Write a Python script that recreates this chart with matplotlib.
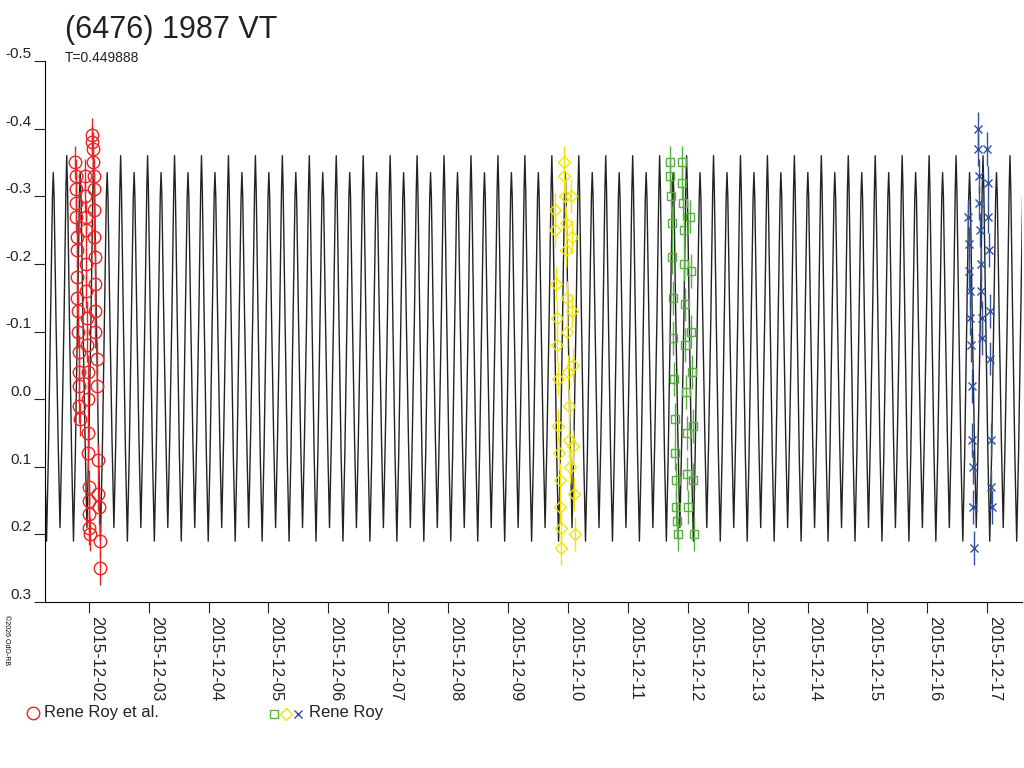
import matplotlib
matplotlib.use("Agg")
import matplotlib.pyplot as plt
import matplotlib.dates as mdates
import numpy as np
from datetime import datetime, timedelta

plt.rcParams['font.family'] = ['Liberation Sans', 'DejaVu Sans']

title = "(6476) 1987 VT"
period_label = "T=0.449888"
period = 0.449888
epoch = 1.633  # day of December 2015 (fractional) of main maximum

# one period of model lightcurve (phase, relative mag)
model_phase = [0.0, 0.03, 0.10, 0.18, 0.25, 0.32, 0.40, 0.47, 0.5, 0.53, 0.60, 0.68, 0.75, 0.82, 0.90, 0.97, 1.0]
model_mag = [-0.36, -0.31, -0.12, 0.08, 0.21, 0.08, -0.12, -0.30, -0.335, -0.30, -0.12, 0.06, 0.19, 0.06, -0.12, -0.31, -0.36]

# Rene Roy et al. (red)
red_t = [1.77, 1.78, 1.78, 1.79, 1.79, 1.80, 1.80, 1.81, 1.81, 1.82, 1.82, 1.83, 1.83, 1.84, 1.84, 1.85,
         1.94, 1.94, 1.95, 1.95, 1.96, 1.96, 1.97, 1.97, 1.98, 1.98, 1.99, 1.99, 2.00, 2.00, 2.01, 2.01, 2.02,
         2.06, 2.06, 2.07, 2.07, 2.08, 2.08, 2.09, 2.09, 2.10, 2.10, 2.11, 2.11, 2.13, 2.14, 2.15, 2.16, 2.17, 2.18, 2.19]
red_m = [-0.35, -0.33, -0.31, -0.29, -0.27, -0.24, -0.22, -0.18, -0.15, -0.13, -0.10, -0.07, -0.04, -0.02, 0.01, 0.03,
         -0.33, -0.30, -0.27, -0.25, -0.20, -0.16, -0.12, -0.08, -0.04, 0.00, 0.05, 0.08, 0.13, 0.15, 0.17, 0.19, 0.20,
         -0.39, -0.38, -0.37, -0.35, -0.33, -0.31, -0.28, -0.24, -0.21, -0.17, -0.13, -0.10, -0.06, -0.02, 0.09, 0.14, 0.16, 0.21, 0.25]

# Rene Roy (yellow diamonds)
yel_t = [9.78, 9.79, 9.80, 9.81, 9.82, 9.83, 9.84, 9.85, 9.86, 9.87, 9.88, 9.89,
         9.93, 9.94, 9.95, 9.96, 9.97, 9.98, 9.99, 10.00, 10.01, 10.02, 10.03,
         10.05, 10.06, 10.07, 10.08, 10.09, 10.10, 10.11]
yel_m = [-0.28, -0.25, -0.17, -0.12, -0.08, -0.03, 0.04, 0.08, 0.12, 0.16, 0.19, 0.22,
         -0.35, -0.33, -0.30, -0.26, -0.22, -0.15, -0.10, -0.04, 0.01, 0.06, 0.10,
         -0.30, -0.24, -0.13, -0.05, 0.07, 0.14, 0.20]

# Rene Roy (green squares)
grn_t = [11.70, 11.71, 11.72, 11.73, 11.74, 11.75, 11.76, 11.77, 11.78, 11.79, 11.80, 11.81, 11.82, 11.83,
         11.90, 11.91, 11.92, 11.93, 11.94, 11.95, 11.96, 11.97, 11.98, 11.99, 12.00,
         12.04, 12.05, 12.06, 12.07, 12.08, 12.09, 12.10]
grn_m = [-0.35, -0.33, -0.30, -0.26, -0.21, -0.15, -0.09, -0.03, 0.03, 0.08, 0.12, 0.16, 0.18, 0.20,
         -0.35, -0.32, -0.29, -0.25, -0.20, -0.14, -0.08, -0.01, 0.05, 0.11, 0.16,
         -0.27, -0.19, -0.10, -0.04, 0.04, 0.12, 0.20]

# Rene Roy (blue stars)
blu_t = [16.68, 16.69, 16.70, 16.71, 16.72, 16.73, 16.74, 16.75, 16.76, 16.77, 16.78,
         16.84, 16.85, 16.86, 16.87, 16.88, 16.89, 16.90, 16.91, 16.92,
         17.00, 17.01, 17.02, 17.03, 17.04, 17.05, 17.06, 17.07, 17.08]
blu_m = [-0.27, -0.23, -0.19, -0.16, -0.12, -0.08, -0.02, 0.06, 0.10, 0.16, 0.22,
         -0.40, -0.37, -0.33, -0.29, -0.25, -0.20, -0.16, -0.12, -0.09,
         -0.37, -0.32, -0.27, -0.22, -0.13, -0.06, 0.06, 0.13, 0.16]

base = datetime(2015, 12, 1)
def todate(d):
    return [base + timedelta(days=x - 1) for x in np.atleast_1d(d)]

fig = plt.figure(figsize=(10.24, 7.68), dpi=100)
ax = fig.add_axes([45/1024, 1 - 602/768, (1022-45)/1024, (602-61)/768])

# model curve by tiling the period shape
t0, t1 = 1.27, 17.58
n0 = int(np.floor((t0 - epoch) / period)) - 1
n1 = int(np.ceil((t1 - epoch) / period)) + 1
mt, mm = [], []
for n in range(n0, n1):
    for ph, m in zip(model_phase[:-1], model_mag[:-1]):
        mt.append(epoch + (n + ph) * period)
        mm.append(m)
ax.plot(todate(mt), mm, color="#222222", lw=1.0, zorder=2)

def series(t, m, color, marker, ms, label=None):
    ax.errorbar(todate(t), m, yerr=0.025, fmt=marker, mfc="none", mec=color, ecolor=color,
                ms=ms, mew=1.0, elinewidth=1.0, capsize=0, zorder=3, label=label)

series(red_t, red_m, "#ee2222", "o", 9)
series(yel_t, yel_m, "#f2e600", "D", 6)
series(grn_t, grn_m, "#55b040", "s", 6)
series(blu_t, blu_m, "#3050a0", "x", 6)

ax.set_ylim(0.3, -0.5)
ax.set_xlim(todate(t0)[0], todate(t1)[0])
ax.set_yticks([-0.5, -0.4, -0.3, -0.2, -0.1, 0.0, 0.1, 0.2, 0.3])
ax.set_yticklabels(["-0.5", "-0.4", "-0.3", "-0.2", "-0.1", "0.0", "0.1", "0.2", "0.3"])
ax.xaxis.set_major_locator(mdates.DayLocator())
ax.xaxis.set_major_formatter(mdates.DateFormatter("%Y-%m-%d"))
for s in ["top", "right"]:
    ax.spines[s].set_visible(False)
ax.tick_params(axis="x", direction="out", length=8, pad=2, labelsize=12, colors="#222222")
ax.tick_params(axis="y", direction="out", length=8, pad=2, labelsize=11, colors="#222222")
for lab in ax.get_xticklabels():
    lab.set_rotation(-90)
    lab.set_ha("left")
    lab.set_va("top")
for lab in ax.get_yticklabels():
    lab.set_va("bottom")

fig.text(65/1024, 1 - 30/768, title, fontsize=22, va="center", ha="left", color="#222222")
fig.text(65/1024, 1 - 58/768, period_label, fontsize=10, va="center", ha="left", color="#222222")
fig.text(3/1024, 1 - 640/768, "©2026 OdO-RB", fontsize=5, rotation=-90, va="center", ha="left")

# legend
fig.lines.append(plt.Line2D([33/1024], [1 - 713/768], marker="o", mfc="none", mec="#ee2222", ms=9, transform=fig.transFigure))
fig.text(44/1024, 1 - 713/768, "Rene Roy et al.", fontsize=12, va="center", color="#222222")
for i, (mk, c) in enumerate([("s", "#55b040"), ("D", "#f2e600"), ("x", "#3050a0")]):
    fig.lines.append(plt.Line2D([(274 + 12 * i)/1024], [1 - 714/768], marker=mk, mfc="none", mec=c, ms=6, transform=fig.transFigure))
fig.text(309/1024, 1 - 713/768, "Rene Roy", fontsize=12, va="center", color="#222222")

fig.savefig("out.png", dpi=100)
